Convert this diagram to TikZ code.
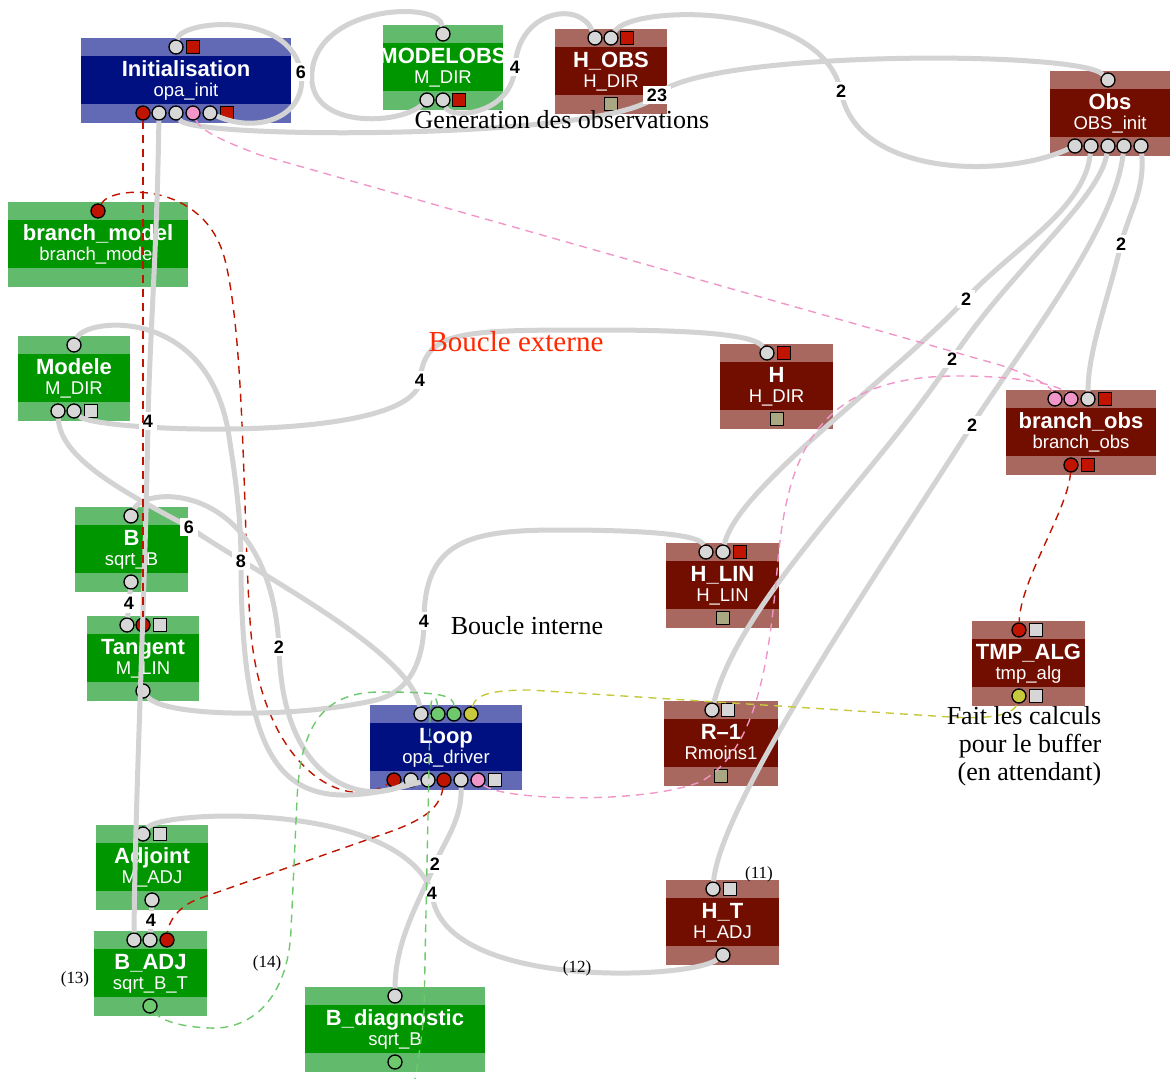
\documentclass[tikz,border=0pt]{standalone}
\usepackage{fontspec}
\setmainfont{Liberation Serif}
\setsansfont{Liberation Sans}
\definecolor{vclair}{RGB}{98,186,108}
\definecolor{vfonce}{RGB}{0,150,0}
\definecolor{bclair}{RGB}{98,105,181}
\definecolor{bfonce}{RGB}{0,16,128}
\definecolor{rclair}{RGB}{168,104,96}
\definecolor{rfonce}{RGB}{114,14,0}
\definecolor{gris}{RGB}{211,211,211}
\definecolor{pgris}{RGB}{215,215,215}
\definecolor{rouge}{RGB}{192,20,0}
\definecolor{rose}{RGB}{240,150,200}
\definecolor{vport}{RGB}{110,200,110}
\definecolor{jaune}{RGB}{200,200,60}
\definecolor{kaki}{RGB}{170,168,130}
\definecolor{rvif}{RGB}{255,40,0}
\tikzset{
  titre/.style={text=white, anchor=base, inner sep=0pt, font=\sffamily\bfseries\fontsize{22}{24}\selectfont},
  soustitre/.style={text=white, anchor=base, inner sep=0pt, font=\sffamily\fontsize{18.5}{20}\selectfont},
  port/.style={draw=black, line width=1.3pt, inner sep=0pt, minimum size=14pt},
  cg/.style={port, circle, fill=pgris}, cr/.style={port, circle, fill=rouge},
  cp/.style={port, circle, fill=rose}, cv/.style={port, circle, fill=vport},
  cj/.style={port, circle, fill=jaune},
  qg/.style={port, minimum size=13pt, fill=pgris}, qr/.style={port, minimum size=13pt, fill=rouge},
  qk/.style={port, minimum size=13pt, fill=kaki},
  lien/.style={draw=gris, line width=5pt},
  etiq/.style={fill=white, text=black, inner xsep=4pt, inner ysep=3pt, font=\sffamily\bfseries\fontsize{18}{20}\selectfont},
  tir/.style={line width=1.4pt, dash pattern=on 8pt off 6pt},
  note/.style={font=\fontsize{17}{19}\selectfont},
  texte/.style={font=\fontsize{26}{28}\selectfont}
}
% boite : nom, x, y, largeur, couleur, titre, sous-titre
\newcommand{\boite}[7]{%
  \fill[#5clair] (#2,#3) rectangle ++(#4,85);
  \fill[#5fonce] (#2,#3+18) rectangle ++(#4,48);
  \begin{scope}
    \clip (#2,#3) rectangle ++(#4,85);
    \node[titre] (#1) at (#2+#4/2,#3+38) {#6};
    \node[soustitre] (#1-s) at (#2+#4/2,#3+58) {#7};
  \end{scope}
}
\begin{document}
\begin{tikzpicture}[x=1pt, y=-1pt, line join=round]
  \useasboundingbox (0,0) rectangle (1171,1079);
  % Boites
  \boite{init}{81}{38}{210}{b}{Initialisation}{opa\_init}
  \boite{mobs}{383}{25}{120}{v}{MODELOBS}{M\_DIR}
  \boite{hobs}{555}{29}{112}{r}{H\_OBS}{H\_DIR}
  \boite{obs}{1050}{71}{120}{r}{Obs}{OBS\_init}
  \boite{brm}{8}{202}{180}{v}{branch\_model}{branch\_model}
  \boite{modele}{18}{336}{112}{v}{Modele}{M\_DIR}
  \boite{bn}{75}{507}{113}{v}{B}{sqrt\_B}
  \boite{tang}{87}{616}{112}{v}{Tangent}{M\_LIN}
  \boite{loop}{370}{705}{152}{b}{Loop}{opa\_driver}
  \boite{adj}{96}{825}{112}{v}{Adjoint}{M\_ADJ}
  \boite{badj}{94}{931}{113}{v}{B\_ADJ}{sqrt\_B\_T}
  \boite{bdiag}{305}{987}{180}{v}{B\_diagnostic}{sqrt\_B}
  \boite{hdir}{720}{344}{113}{r}{H}{H\_DIR}
  \boite{hlin}{666}{543}{113}{r}{H\_LIN}{H\_LIN}
  \boite{rm1}{664}{701}{114}{r}{R\textendash1}{Rmoins1}
  \boite{ht}{666}{880}{113}{r}{H\_T}{H\_ADJ}
  \boite{bro}{1006}{390}{150}{r}{branch\_obs}{branch\_obs}
  \boite{tmp}{972}{621}{113}{r}{TMP\_ALG}{tmp\_alg}
  % Ports
  \foreach \n/\x/\y/\s in {
    init-t1/176/47/cg, init-t2/193/47/qr,
    init-b1/143/113/cr, init-b2/159/113/cg, init-b3/176/113/cg, init-b4/193/113/cp, init-b5/210/113/cg, init-b6/227/113/qr,
    mobs-t1/443/34/cg, mobs-b1/427/100/cg, mobs-b2/443/100/cg, mobs-b3/459/100/qr,
    hobs-t1/595/38/cg, hobs-t2/611/38/cg, hobs-t3/627/38/qr, hobs-b1/611/104/qk,
    obs-t1/1108/80/cg, obs-b1/1075/146/cg, obs-b2/1091/146/cg, obs-b3/1108/146/cg, obs-b4/1124/146/cg, obs-b5/1141/146/cg,
    brm-t1/98/211/cr,
    modele-t1/74/345/cg, modele-b1/58/411/cg, modele-b2/74/411/cg, modele-b3/91/411/qg,
    bn-t1/131/516/cg, bn-b1/131/582/cg,
    tang-t1/127/625/cg, tang-t2/143/625/cr, tang-t3/160/625/qg, tang-b1/143/691/cg,
    loop-t1/421/714/cg, loop-t2/438/714/cv, loop-t3/454/714/cv, loop-t4/471/714/cj,
    loop-b1/394/780/cr, loop-b2/411/780/cg, loop-b3/428/780/cg, loop-b4/444/780/cr, loop-b5/461/780/cg, loop-b6/478/780/cp, loop-b7/495/780/qg,
    adj-t1/143/834/cg, adj-t2/160/834/qg, adj-b1/152/900/cg,
    badj-t1/134/940/cg, badj-t2/150/940/cg, badj-t3/167/940/cr, badj-b1/150/1006/cv,
    bdiag-t1/395/996/cg, bdiag-b1/395/1062/cv,
    hdir-t1/767/353/cg, hdir-t2/784/353/qr, hdir-b1/777/419/qk,
    hlin-t1/706/552/cg, hlin-t2/723/552/cg, hlin-t3/740/552/qr, hlin-b1/723/618/qk,
    rm1-t1/712/710/cg, rm1-t2/728/710/qg, rm1-b1/721/776/qk,
    ht-t1/713/889/cg, ht-t2/730/889/qg, ht-b1/723/955/cg,
    bro-t1/1055/399/cp, bro-t2/1071/399/cp, bro-t3/1088/399/cg, bro-t4/1105/399/qr, bro-b1/1071/465/cr, bro-b2/1088/465/qr,
    tmp-t1/1019/630/cr, tmp-t2/1036/630/qg, tmp-b1/1019/696/cj, tmp-b2/1036/696/qg}
    \node[\s] (\n) at (\x,\y) {};
  % branch_model -> Loop (sous les liens gris)
  \draw[tir, rouge] (brm-t1) .. controls (110,185) and (205,180) .. (225,260) .. controls (245,340) and (243,520) .. (250,620) .. controls (258,760) and (340,815) .. (loop-b1);
  % Liens gris
  \draw[lien] (mobs-t1) .. controls (440,0) and (318,5) .. (312,72) .. controls (306,130) and (400,125) .. (mobs-b1);
  \draw[lien] (init-t1) .. controls (180,20) and (290,10) .. (301,72) node[etiq] (e6a) {6} .. controls (308,115) and (260,135) .. (init-b5);
  \draw[lien] (mobs-b2) .. controls (450,120) and (512,115) .. (515,67) node[etiq] (e4g) {4} .. controls (518,10) and (580,0) .. (hobs-t1);
  \draw[lien] (init-b3) .. controls (190,140) and (620,140) .. (657,95) node[etiq] (e23) {23} .. controls (700,50) and (1080,50) .. (obs-t1);
  \draw[lien] (hobs-t2) .. controls (630,5) and (820,0) .. (841,91) node[etiq] (e2c) {2} .. controls (855,175) and (1000,180) .. (obs-b1);
  \draw[lien] (obs-b2) .. controls (1085,210) and (1010,250) .. (966,299) node[etiq] (e2d) {2} .. controls (890,380) and (735,490) .. (hlin-t2);
  \draw[lien] (obs-b3) .. controls (1100,200) and (1010,270) .. (952,359) node[etiq] (e2e) {2} .. controls (880,470) and (740,600) .. (rm1-t1);
  \draw[lien] (obs-b4) .. controls (1115,230) and (1020,350) .. (972,425) node[etiq] (e2f) {2} .. controls (900,540) and (720,800) .. (ht-t1);
  \draw[lien] (obs-b5) .. controls (1145,190) and (1130,210) .. (1121,244) node[etiq] (e2g) {2} .. controls (1108,300) and (1088,350) .. (bro-t3);
  \draw[lien] (modele-b2) .. controls (95,432) and (415,445) .. (420,380) node[etiq] (e4b) {4} .. controls (425,330) and (460,330) .. (600,330) .. controls (700,330) and (755,335) .. (hdir-t1);
  \draw[lien] (init-b2) .. controls (157,250) and (150,330) .. (148,421) node[etiq] (e4a) {4} .. controls (145,600) and (135,800) .. (badj-t1);
  \draw[lien] (bn-b1) -- (tang-t1) node[etiq, midway] (e4c) {4};
  \draw[lien] (adj-b1) -- (badj-t2) node[etiq, midway] (e4d) {4};
  \draw[lien] (modele-b1) .. controls (60,460) and (130,495) .. (189,527) node[etiq] (e6b) {6} .. controls (250,570) and (410,650) .. (loop-t1);
  \draw[lien] (modele-t1) .. controls (85,318) and (205,305) .. (228,430) .. controls (236,480) and (241,520) .. (241,561) node[etiq] (e8) {8} .. controls (241,800) and (300,815) .. (loop-b3);
  \draw[lien] (bn-t1) .. controls (145,485) and (270,480) .. (279,647) node[etiq] (e2a) {2} .. controls (282,790) and (370,805) .. (loop-b2);
  \draw[lien] (tang-b1) .. controls (165,718) and (300,718) .. (376,700) .. controls (410,692) and (424,660) .. (424,621) node[etiq] (e4e) {4} .. controls (424,540) and (470,530) .. (560,530) .. controls (650,530) and (700,535) .. (hlin-t1);
  \draw[lien] (adj-t1) .. controls (160,810) and (400,800) .. (432,893) node[etiq] (e4f) {4} .. controls (440,990) and (690,980) .. (ht-b1);
  \draw[lien] (loop-b5) .. controls (462,820) and (445,840) .. (435,864) node[etiq] (e2b) {2} .. controls (420,900) and (395,940) .. (bdiag-t1);
  % Liens en pointilles
  \draw[tir, rouge] (init-b1) -- (tang-t2);
  \draw[tir, rouge] (loop-b4) .. controls (440,810) and (420,820) .. (395,830) -- (198,899) .. controls (175,908) and (168,925) .. (badj-t3);
  \draw[tir, rouge] (bro-b1) .. controls (1068,510) and (1020,580) .. (tmp-t1);
  \draw[tir, rose] (init-b4) .. controls (200,130) and (220,140) .. (260,155) -- (1000,365) .. controls (1030,375) and (1050,385) .. (bro-t1);
  \draw[tir, rose] (loop-b6) .. controls (500,800) and (640,805) .. (700,782) .. controls (760,750) and (770,650) .. (778,560) .. controls (788,450) and (820,375) .. (960,376) .. controls (1020,376) and (1060,385) .. (bro-t2);
  \draw[tir, jaune] (loop-t4) .. controls (475,695) and (490,690) .. (530,690) -- (950,717) .. controls (1000,720) and (1015,712) .. (tmp-b1);
  \draw[tir, vport] (loop-t3) .. controls (454,695) and (440,692) .. (380,692) .. controls (320,692) and (300,730) .. (297,800) -- (291,930) .. controls (288,1000) and (250,1030) .. (210,1028) .. controls (180,1027) and (160,1020) .. (badj-b1);
  \coordinate (bas) at (414,1085);
  \draw[tir, vport] (loop-t2) .. controls (437,695) and (430,690) .. (430,720) -- (424,1010) .. controls (422,1040) and (418,1060) .. (bas);
  % Textes
  \node[texte] (gen) at (562,120) {Generation des observations};
  \node[font=\fontsize{29}{30}\selectfont, text=rvif] (bext) at (516,342) {Boucle externe};
  \node[texte] (bint) at (527,626) {Boucle interne};
  \node[texte, align=right] (fait) at (1024,746) {Fait les calculs\\pour le buffer\\(en attendant)};
  \node[note] (n11) at (759,874) {(11)};
  \node[note] (n12) at (577,968) {(12)};
  \node[note] (n13) at (75,979) {(13)};
  \node[note] (n14) at (267,963) {(14)};
\end{tikzpicture}
\end{document}
